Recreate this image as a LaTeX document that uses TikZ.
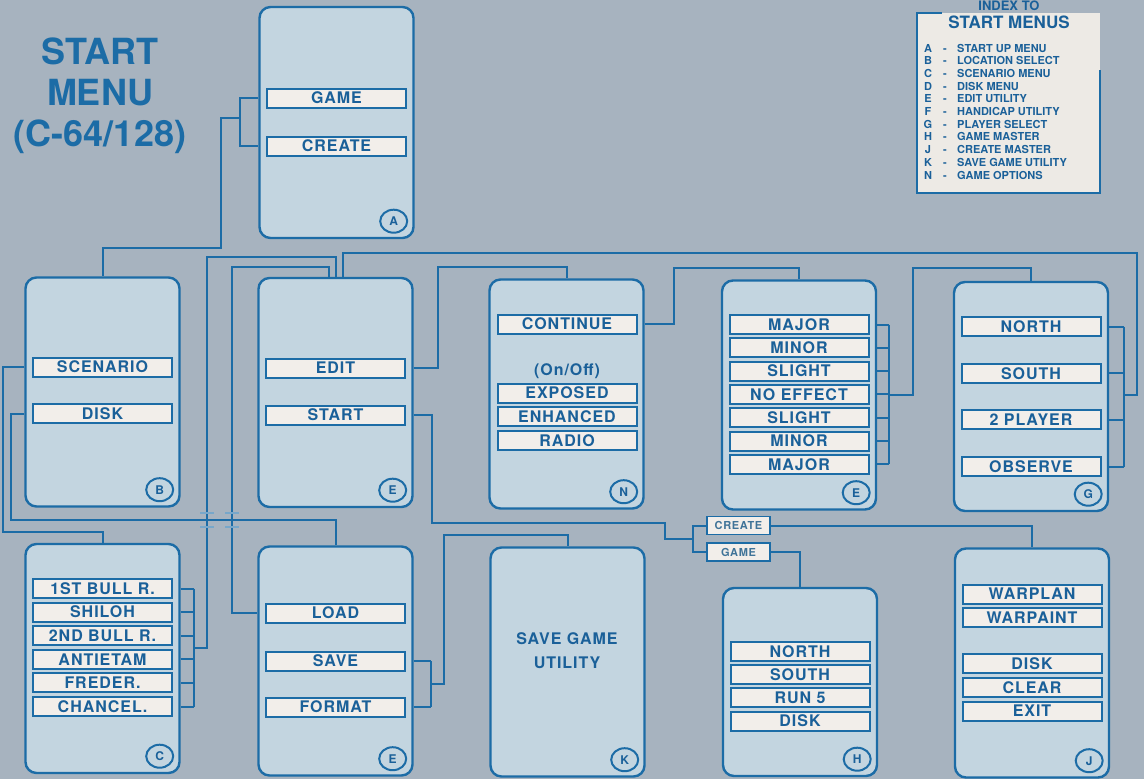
\documentclass[tikz,border=0pt]{standalone}
\usepackage{fontspec}
\setmainfont{TeX Gyre Heros}
\newfontfamily\menufont{TeX Gyre Heros}[LetterSpace=6]
\usetikzlibrary{calc,shapes.geometric}
\definecolor{menublue}{HTML}{1C6CA6}
\definecolor{menuink}{HTML}{1A6099}
\definecolor{menubg}{HTML}{A7B3BF}
\definecolor{menupanel}{HTML}{C3D5E0}
\definecolor{menuitem}{HTML}{F2EEEA}
\definecolor{menupaper}{HTML}{EDEAE5}
\tikzset{
  panel/.style={draw=menublue, line width=2.4pt, fill=menupanel, rounded corners=11pt, minimum width=154pt, minimum height=229pt, inner sep=0pt},
  item/.style={draw=menublue, line width=2pt, fill=menuitem, minimum width=139pt, minimum height=19pt, inner sep=0pt, font=\menufont\bfseries\fontsize{16}{16}\selectfont, text=menuink},
  btn/.style={draw=menublue, line width=1.5pt, fill=menuitem, minimum width=63pt, minimum height=18pt, inner sep=0pt, font=\menufont\bfseries\fontsize{11}{11}\selectfont, text=menublue!65!gray},
  tag/.style={ellipse, draw=menublue, line width=2pt, fill=menupanel, minimum width=27pt, minimum height=23pt, inner sep=0pt, font=\bfseries\fontsize{12}{12}\selectfont, text=menuink},
  wire/.style={draw=menublue, line width=2pt},
  hop/.style={draw=menublue!60, line width=1.5pt},
  lbl/.style={font=\menufont\bfseries\fontsize{16}{24}\selectfont, text=menuink, align=center},
  idx/.style={font=\bfseries\fontsize{11}{11}\selectfont, text=menuink, inner sep=0pt, anchor=base},
}
\begin{document}
\begin{tikzpicture}[x=1pt,y=-1pt]
  \useasboundingbox (0,0) rectangle (1144,779);
  \fill[menubg] (0,0) rectangle (1144,779);

  % title
  \node[font=\bfseries\fontsize{36}{41}\selectfont, text=menublue, align=center] (title) at (100,96) {START\\MENU\\(C-64/128)};

  % index of menus
  \fill[menupaper] (917,13) rectangle (1100,193);
  \draw[wire] (942,13) -- (917,13) -- (917,193) -- (1100,193) -- (1100,70);
  \node[font=\bfseries\fontsize{13}{13}\selectfont, text=menuink] (idxtop) at (1009,6) {INDEX TO};
  \node[font=\bfseries\fontsize{17}{17}\selectfont, text=menuink] (idxtitle) at (1009,22) {START MENUS};
  \foreach \k/\txt [count=\i from 0] in {A/START UP MENU, B/LOCATION SELECT, C/SCENARIO MENU, D/DISK MENU, E/EDIT UTILITY, F/HANDICAP UTILITY, G/PLAYER SELECT, H/GAME MASTER, J/CREATE MASTER, K/SAVE GAME UTILITY, N/GAME OPTIONS}
    { \node[idx] at (928,52+12.7*\i) {\k}; \node[idx] at (945,52+12.7*\i) {-};
      \node[idx, anchor=base west] at (957,52+12.7*\i) {\txt}; }

  % panels
  \node[panel, minimum height=231pt] (pA) at (336.5,122.5) {};
  \node[panel] (pB) at (102.5,392) {};
  \node[panel] (pE1) at (335.5,392.5) {};
  \node[panel] (pN) at (566.5,394) {};
  \node[panel] (pE3) at (799,395) {};
  \node[panel] (pG) at (1031,396.5) {};
  \node[panel] (pC) at (102.5,658.5) {};
  \node[panel] (pE2) at (335.5,661) {};
  \node[panel] (pK) at (567.5,662) {};
  \node[panel, minimum height=188pt] (pH) at (800,682) {};
  \node[panel] (pJ) at (1032,663) {};

  \foreach \p/\t in {pA/A,pB/B,pE1/E,pN/N,pE3/E,pG/G,pC/C,pE2/E,pK/K,pH/H,pJ/J}
    \node[tag] (t\p) at ($(\p.south east)+(-21,-18)$) {\t};

  % menu entries
  \node[item] (game) at (336.5,98) {GAME};
  \node[item] (create) at (336.5,146) {CREATE};
  \node[item] (scen) at (102.5,367) {SCENARIO};
  \node[item] (disk) at (102.5,413.5) {DISK};
  \node[item] (edit) at (335.5,368) {EDIT};
  \node[item] (start) at (335.5,415) {START};
  \node[item] (cont) at (567,324) {CONTINUE};
  \node[lbl] (onoff) at (567,371) {(On/Off)};
  \node[item] (expo) at (567,393) {EXPOSED};
  \node[item] (enha) at (567,416.5) {ENHANCED};
  \node[item] (radio) at (567,440.5) {RADIO};
  \foreach \txt [count=\i] in {MAJOR,MINOR,SLIGHT,NO EFFECT,SLIGHT,MINOR,MAJOR}
    \node[item] (h\i) at (799,324.5+23.33*\i-23.33) {\txt};
  \foreach \txt [count=\i] in {NORTH,SOUTH,2 PLAYER,OBSERVE}
    \node[item] (g\i) at (1031,326.5+46.67*\i-46.67) {\txt};
  \foreach \txt [count=\i] in {1ST BULL R.,SHILOH,2ND BULL R.,ANTIETAM,FREDER.,CHANCEL.}
    \node[item] (c\i) at (102.5,588.5+23.6*\i-23.6) {\txt};
  \node[item] (load) at (335.5,613) {LOAD};
  \node[item] (save) at (335.5,661) {SAVE};
  \node[item] (format) at (335.5,707) {FORMAT};
  \node[lbl] (saveutil) at (567,651) {SAVE GAME\\UTILITY};
  \foreach \txt [count=\i] in {NORTH,SOUTH,RUN 5,DISK}
    \node[item] (m\i) at (800,651.5+23.2*\i-23.2) {\txt};
  \node[item] (warplan) at (1032,594) {WARPLAN};
  \node[item] (warpaint) at (1032,617.5) {WARPAINT};
  \node[item] (jdisk) at (1032,663.5) {DISK};
  \node[item] (clear) at (1032,687.5) {CLEAR};
  \node[item] (exit) at (1032,711) {EXIT};
  \node[btn] (createbtn) at (738.5,525.5) {CREATE};
  \node[btn] (gamebtn) at (738.5,552) {GAME};

  % connectors
  \coordinate (ajoin) at (240,118);
  \draw[wire] (game.west -| pA.west) -| (240,146) -- (create.west -| pA.west);
  \draw[wire] (ajoin) -- (221,118) -- (221,248) -| (pB.north);
  \draw[wire] (scen.west -| pB.west) -| (3,532) -| (pC.north);
  \draw[wire] (disk.west -| pB.west) -| (11,520) -| (pE2.north);

  \foreach \n in {c1,c2,c3,c4,c5,c6} \draw[wire] (\n.east -| pC.east) -- ++(13,0);
  \draw[wire] ($(c1.east -| pC.east)+(13,0)$) -- ($(c6.east -| pC.east)+(13,0)$);
  \coordinate (cjoin) at (193,648);
  \draw[wire] (cjoin) -- (207,648) -- (207,257) -| (pE1.north);
  \draw[wire] ([xshift=-7pt]pE1.north) |- (232,267) |- (load.west -| pE2.west);
  \coordinate (gjoin) at (1123,395);
  \draw[wire] ([xshift=7pt]pE1.north) |- (1137,253) |- (gjoin);
  \foreach \cx in {207,232}
    \draw[hop] (\cx-7,513) -- (\cx+7,513) (\cx-7,527) -- (\cx+7,527);

  \draw[wire] (edit.east -| pE1.east) -| (438,267) -| (pN.north);
  \draw[wire] (start.east -| pE1.east) -| (432,523) -| (665,539) -- (693,539);
  \draw[wire] (createbtn.west) -| (693,539) |- (gamebtn.west);
  \draw[wire] (createbtn.east) -| (pJ.north);
  \draw[wire] (gamebtn.east) -| (pH.north);

  \draw[wire] (cont.east -| pN.east) -| (674,268) -| (pE3.north);
  \foreach \n in {h1,h2,h3,h4,h5,h6,h7} \draw[wire] (\n.east -| pE3.east) -- ++(12,0);
  \draw[wire] ($(h1.east -| pE3.east)+(12,0)$) -- ($(h7.east -| pE3.east)+(12,0)$);
  \coordinate (hjoin) at (888,395);
  \draw[wire] (hjoin) -| (913,268) -| (pG.north);

  \foreach \n in {g1,g2,g3,g4} \draw[wire] (\n.east -| pG.east) -- ++(15,0);
  \draw[wire] ($(g1.east -| pG.east)+(15,0)$) -- ($(g4.east -| pG.east)+(15,0)$);

  \foreach \n in {save,format} \draw[wire] (\n.east -| pE2.east) -- ++(17,0);
  \draw[wire] ($(save.east -| pE2.east)+(17,0)$) -- ($(format.east -| pE2.east)+(17,0)$);
  \coordinate (ejoin) at (430,684);
  \draw[wire] (ejoin) -- (444,684) -- (444,535) -| (pK.north);
\end{tikzpicture}
\end{document}
